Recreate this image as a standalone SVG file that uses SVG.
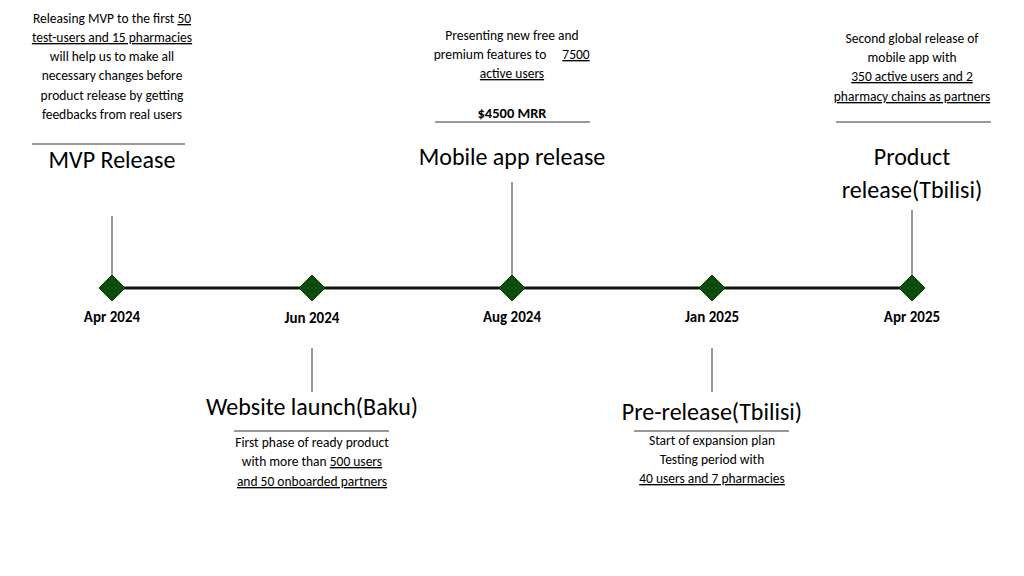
<svg xmlns="http://www.w3.org/2000/svg" width="1024" height="576" viewBox="0 0 1024 576">
<style>
text{font-family:Carlito,Lato,"Liberation Sans",sans-serif;fill:#000;text-anchor:middle}
.s{font-size:13.5px}
.t{font-size:24px}
.d{font-size:15px;font-weight:bold}
.u{text-decoration:underline}
.l{stroke:#000;stroke-width:0.8}
.v{stroke:#333;stroke-width:1}
.dm{fill:#0d4d0d;stroke:#0a3a0a;stroke-width:1}
</style>
<rect width="1024" height="576" fill="#fff"/>
<g id="connectors">
<line x1="112" y1="288" x2="912" y2="288" stroke="#111" stroke-width="3"/>
<line class="v" x1="112" y1="216" x2="112" y2="288"/>
<line class="v" x1="312" y1="348" x2="312" y2="392"/>
<line class="v" x1="512" y1="182" x2="512" y2="288"/>
<line class="v" x1="712" y1="348" x2="712" y2="392"/>
<line class="v" x1="912" y1="210" x2="912" y2="288"/>
</g>
<g id="n1">
<path class="dm" d="M112 275 L125 288 L112 301 L99 288Z"/>
<text class="d" x="112" y="322">Apr 2024</text>
<text class="s" x="112" y="23">Releasing MVP to the first <tspan class="u">50</tspan></text>
<text class="s" x="112" y="42"><tspan class="u">test-users and 15 pharmacies</tspan></text>
<text class="s" x="112" y="61">will help us to make all</text>
<text class="s" x="112" y="80">necessary changes  before</text>
<text class="s" x="112" y="100">product release by getting</text>
<text class="s" x="112" y="119">feedbacks from real users</text>
<line class="l" x1="32" y1="144" x2="185" y2="144"/>
<text class="t" x="112" y="168">MVP Release</text>
</g>
<g id="n2">
<path class="dm" d="M312 275 L325 288 L312 301 L299 288Z"/>
<text class="d" x="312" y="323">Jun 2024</text>
<text class="t" x="312" y="415">Website launch(Baku)</text>
<line class="l" x1="234" y1="431" x2="389" y2="431"/>
<text class="s" x="312" y="447">First phase of ready product</text>
<text class="s" x="312" y="466">with more than <tspan class="u">500 users</tspan></text>
<text class="s" x="312" y="486"><tspan class="u">and 50 onboarded partners</tspan></text>
</g>
<g id="n3">
<path class="dm" d="M512 275 L525 288 L512 301 L499 288Z"/>
<text class="d" x="512" y="322">Aug 2024</text>
<text class="s" x="512" y="40">Presenting new free and</text>
<text class="s" x="490" y="59">premium features to</text>
<text class="s u" x="576" y="59">7500</text>
<text class="s u" x="512" y="78">active users</text>
<text x="512" y="118" font-size="14.5" font-weight="bold">$4500 MRR</text>
<line class="l" x1="435" y1="122" x2="590" y2="122"/>
<text class="t" x="512" y="165">Mobile app release</text>
</g>
<g id="n4">
<path class="dm" d="M712 275 L725 288 L712 301 L699 288Z"/>
<text class="d" x="712" y="322">Jan 2025</text>
<text class="t" x="712" y="420">Pre-release(Tbilisi)</text>
<line class="l" x1="634" y1="431" x2="789" y2="431"/>
<text class="s" x="712" y="445">Start of expansion  plan</text>
<text class="s" x="712" y="464">Testing period with</text>
<text class="s u" x="712" y="483">40 users and 7 pharmacies</text>
</g>
<g id="n5">
<path class="dm" d="M912 275 L925 288 L912 301 L899 288Z"/>
<text class="d" x="912" y="322">Apr 2025</text>
<text class="s" x="912" y="43">Second global release of</text>
<text class="s" x="912" y="62">mobile app with</text>
<text class="s u" x="912" y="81">350 active users and 2</text>
<text class="s u" x="912" y="101">pharmacy chains as partners</text>
<line class="l" x1="836" y1="122" x2="991" y2="122"/>
<text class="t" x="912" y="165">Product</text>
<text class="t" x="912" y="198">release(Tbilisi)</text>
</g>
</svg>
